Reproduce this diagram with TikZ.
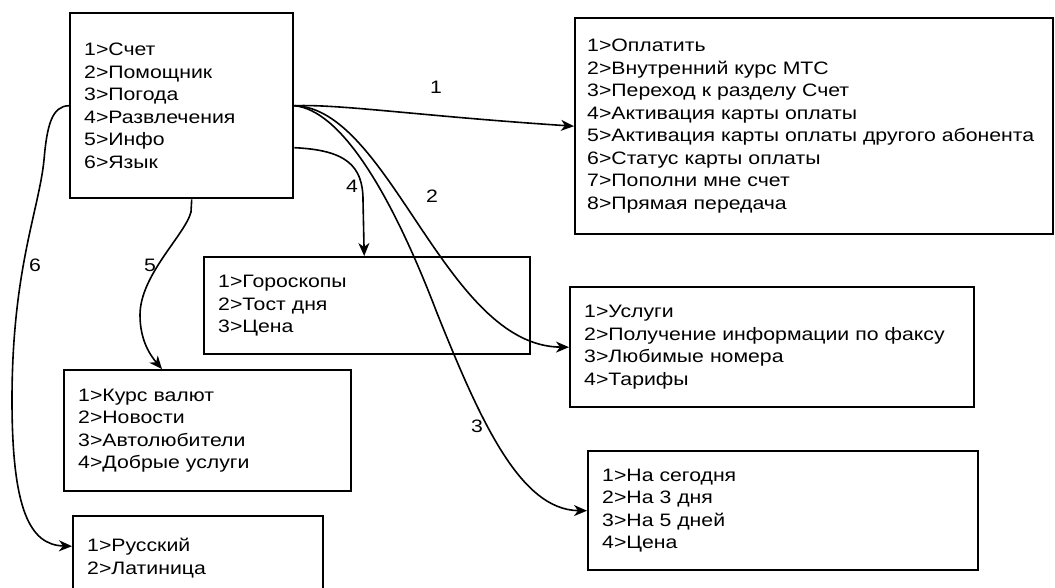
\documentclass[tikz,border=0pt]{standalone}
\usepackage{fontspec}
\setmainfont[FakeStretch=1.18]{Liberation Sans}
\usepackage{tikz}
\usetikzlibrary{positioning,arrows.meta,calc}

\begin{document}
\begin{tikzpicture}[
  x=1pt,y=-1pt,
  >={Stealth[length=13pt,width=11pt,inset=4pt]},
  menu/.style={draw,line width=2.4pt,anchor=north west,align=left,inner xsep=14pt,
    font=\fontsize{18}{22.5}\selectfont},
  link/.style={->,line width=1.6pt},
  num lab/.style={font=\fontsize{18}{22.5}\selectfont,inner sep=1pt}
]
\clip (0,0) rectangle (1055,587);

% Main menu
\node[menu,minimum width=223pt,minimum height=185pt,text width=195pt] (main) at (69,12)
  {1>Счет\\2>Помощник\\3>Погода\\4>Развлечения\\5>Инфо\\6>Язык};

% Submenus
\node[menu,minimum width=478pt,minimum height=216pt,text width=454pt,inner xsep=12pt] (schet) at (574,17)
  {1>Оплатить\\2>Внутренний курс МТС\\3>Переход к разделу Счет\\4>Активация карты оплаты\\
   5>Активация карты оплаты другого абонента\\6>Статус карты оплаты\\7>Пополни мне счет\\8>Прямая передача};
\node[menu,minimum width=326pt,minimum height=97pt,text width=298pt] (razvl) at (203,256)
  {1>Гороскопы\\2>Тост дня\\3>Цена};
\node[menu,minimum width=404pt,minimum height=120pt,text width=376pt] (pomosh) at (569,286)
  {1>Услуги\\2>Получение информации по факсу\\3>Любимые номера\\4>Тарифы};
\node[menu,minimum width=390pt,minimum height=119pt,text width=362pt] (pogoda) at (587,450)
  {1>На сегодня\\2>На 3 дня\\3>На 5 дней\\4>Цена};
\node[menu,minimum width=287pt,minimum height=121pt,text width=259pt] (info) at (63,369)
  {1>Курс валют\\2>Новости\\3>Автолюбители\\4>Добрые услуги};
\node[menu,minimum width=250pt,minimum height=84pt,text width=222pt] (yazyk) at (72,515)
  {1>Русский\\2>Латиница};

% Links
\draw[link] (main.east) .. controls (340,104) and (420,116) .. (schet.west);
\draw[link] (main.east) .. controls (390,108) and (445,346) .. (pomosh.west);
\draw[link] (main.east) .. controls (340,110) and (390,190) .. (437,313)
  .. controls (480,420) and (520,510) .. (pogoda.west);
\draw[link] ([yshift=-42pt]main.east) .. controls (345,150) and (363,165) .. (363,200)
  -- ([xshift=-3pt]razvl.north);
\draw[link] ([xshift=10pt]main.south) -- (191,212) .. controls (185,235) and (140,275) .. (140,315)
  .. controls (140,340) and (150,355) .. ([xshift=99pt]info.north west);
\draw[link] (main.west) .. controls (52,106) and (47,125) .. (44,160)
  .. controls (39,210) and (12,270) .. (12,400)
  .. controls (12,510) and (30,545) .. ([yshift=12pt]yazyk.west);

% Link numbers
\node[num lab] (n1) at (436,87) {1};
\node[num lab] (n2) at (432,196) {2};
\node[num lab] (n3) at (477,426) {3};
\node[num lab] (n4) at (352,186) {4};
\node[num lab] (n5) at (150,265) {5};
\node[num lab] (n6) at (35,265) {6};

\end{tikzpicture}
\end{document}
